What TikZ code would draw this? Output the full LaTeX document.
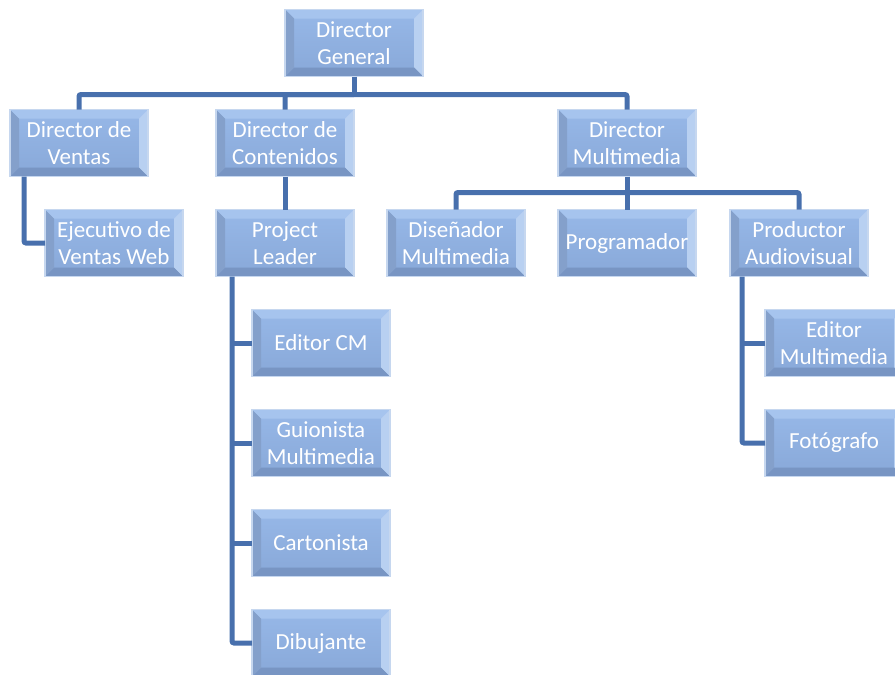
\documentclass[tikz,border=0pt]{standalone}
\usepackage{fontspec}
\setmainfont{Carlito}
\usetikzlibrary{positioning}
\usetikzlibrary{calc}
\definecolor{faceTop}{HTML}{97B8E8}
\definecolor{faceBot}{HTML}{88A8D8}
\definecolor{bevLight}{HTML}{A6C4EE}
\definecolor{bevDark}{HTML}{7895C3}
\definecolor{bevLeft}{HTML}{84A0CB}
\definecolor{rimColor}{HTML}{C6D7EF}
\definecolor{linkColor}{HTML}{4870AD}
\tikzset{%
	% boxes of the chart
	unit/.style = {rectangle, minimum width=138pt, minimum height=67pt,
		inner sep=0pt, outer sep=0pt, align=center, text=white,
		font=\fontsize{23pt}{27pt}\selectfont,
		top color=faceTop, bottom color=faceBot,
		draw=rimColor, line width=1.4pt,
		path picture={
			\coordinate (bNW) at (path picture bounding box.north west);
			\coordinate (bNE) at (path picture bounding box.north east);
			\coordinate (bSW) at (path picture bounding box.south west);
			\coordinate (bSE) at (path picture bounding box.south east);
			\fill[bevLight] (bNW) -- (bNE) -- ($(bNE)+(-9pt,-9pt)$) -- ($(bNW)+(9pt,-9pt)$) -- cycle;
			\fill[bevLight!80!white] (bNE) -- (bSE) -- ($(bSE)+(-9pt,9pt)$) -- ($(bNE)+(-9pt,-9pt)$) -- cycle;
			\fill[bevDark] (bSW) -- (bSE) -- ($(bSE)+(-9pt,9pt)$) -- ($(bSW)+(9pt,9pt)$) -- cycle;
			\fill[bevLeft] (bNW) -- (bSW) -- ($(bSW)+(9pt,9pt)$) -- ($(bNW)+(9pt,-9pt)$) -- cycle;
		}},
	link/.style = {draw=linkColor, line width=5pt, rounded corners=2pt}
}

\begin{document}
\begin{tikzpicture}[x=1pt, y=1pt]
	\useasboundingbox (0,0) rectangle (895,-675);
	\clip (0,0) rectangle (895,-675);
	% top levels
	\node (director) [unit] at (354,-43) {Director\\General};
	\node (contenidos) [unit] at (285,-143) {Director de\\Contenidos};
	\node (ventas) [unit, left=68pt of contenidos] {Director de\\Ventas};
	\node (multimedia) [unit] at (627,-143) {Director\\Multimedia};
	% third level
	\node (ejecutivo) [unit, below=33pt of ventas, xshift=35pt] {Ejecutivo de\\Ventas Web};
	\node (project) [unit, below=33pt of contenidos] {Project\\Leader};
	\node (programador) [unit, below=33pt of multimedia] {Programador};
	\node (disenador) [unit, left=33pt of programador] {Diseñador\\Multimedia};
	\node (productor) [unit, right=34pt of programador] {Productor\\Audiovisual};
	% under project leader
	\node (editorCM) [unit, below=33pt of project, xshift=36pt] {Editor CM};
	\node (guionista) [unit, below=33pt of editorCM] {Guionista\\Multimedia};
	\node (cartonista) [unit, below=33pt of guionista] {Cartonista};
	\node (dibujante) [unit, below=33pt of cartonista] {Dibujante};
	% under productor
	\node (editorMM) [unit, below=33pt of productor, xshift=35pt] {Editor\\Multimedia};
	\node (fotografo) [unit, below=33pt of editorMM] {Fotógrafo};

	\coordinate (topBus) at ($(director.south)+(0,-18)$);
	\coordinate (mmBus) at ($(multimedia.south)+(0,-16)$);
	\coordinate (ventasSpine) at ($(ventas.south west)+(14,0)$);
	\coordinate (projectSpine) at ($(project.south west)+(16,0)$);
	\coordinate (productorSpine) at ($(productor.south west)+(12,0)$);

	\draw[link] (director.south) -- (topBus);
	\draw[link] (ventas.north) |- (topBus) -| (multimedia.north);
	\draw[link] (topBus) -| (contenidos.north);
	\draw[link] (contenidos.south) -- (project.north);
	\draw[link] (ventasSpine) |- (ejecutivo.west);
	\draw[link] (multimedia.south) -- (programador.north);
	\draw[link] (disenador.north) |- (mmBus) -| (productor.north);
	\draw[link] (projectSpine) |- (dibujante.west);
	\draw[link] (projectSpine |- editorCM.west) -- (editorCM.west);
	\draw[link] (projectSpine |- guionista.west) -- (guionista.west);
	\draw[link] (projectSpine |- cartonista.west) -- (cartonista.west);
	\draw[link] (productorSpine) |- (fotografo.west);
	\draw[link] (productorSpine |- editorMM.west) -- (editorMM.west);
\end{tikzpicture}
\end{document}
